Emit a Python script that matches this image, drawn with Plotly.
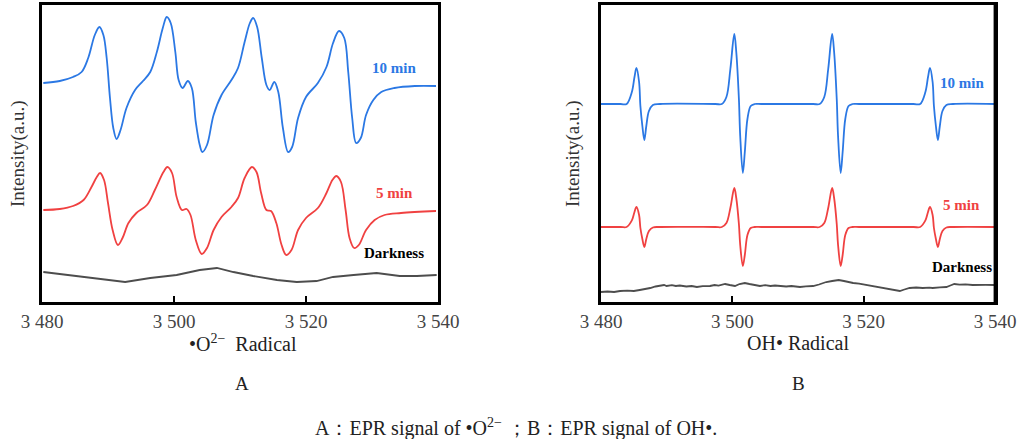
import plotly.graph_objects as go

# ---------------- data ----------------
# Panel A: •O2− radical (DMPO-OOH), field in G, intensity in a.u.
o2_field_10 = [3480.2, 3482.7, 3484.7, 3486.0, 3487.0, 3488.0, 3488.7, 3489.3, 3489.8, 3490.3,
               3490.8, 3491.3, 3491.9, 3492.8, 3494.1, 3495.3, 3496.4, 3497.4, 3498.3, 3498.9,
               3499.5, 3500.2, 3500.7, 3501.3, 3502.1, 3502.7, 3503.3, 3503.9, 3504.3, 3505.0,
               3506.0, 3507.2, 3508.7, 3509.7, 3510.7, 3511.5, 3512.0, 3512.6, 3513.3, 3514.0,
               3514.5, 3515.2, 3515.8, 3516.5, 3517.3, 3517.9, 3518.8, 3520.0, 3521.8, 3523.1,
               3524.1, 3525.0, 3525.8, 3526.4, 3527.0, 3527.6, 3528.3, 3529.1, 3530.2, 3531.4,
               3533.4, 3536.5, 3539.7]
o2_int_10 = [219, 221, 225, 230, 244, 267, 275, 267, 244, 204,
             174, 163, 172, 194, 212, 221, 230, 250, 274, 285,
             279, 250, 222, 214, 221, 214, 180, 157, 150, 157,
             187, 207, 222, 234, 260, 279, 284, 275, 244, 217,
             212, 220, 210, 174, 150, 155, 184, 205, 219, 235,
             259, 271, 264, 230, 184, 159, 164, 187, 202, 210,
             214, 216, 216]

o2_field_5 = [3480.2, 3482.7, 3484.7, 3486.3, 3487.5, 3488.3, 3488.8, 3489.4, 3490.0, 3490.7,
              3491.5, 3492.2, 3493.1, 3494.3, 3495.9, 3497.1, 3498.4, 3499.0, 3499.7, 3500.4,
              3501.2, 3501.9, 3502.5, 3503.3, 3504.2, 3505.0, 3506.0, 3507.2, 3508.7, 3509.7,
              3510.7, 3511.8, 3512.5, 3513.2, 3514.0, 3514.7, 3515.5, 3516.3, 3517.0, 3517.8,
              3518.8, 3520.0, 3521.8, 3523.1, 3524.0, 3524.6, 3525.3, 3526.0, 3526.6, 3527.3,
              3528.0, 3529.1, 3530.4, 3531.9, 3534.4, 3539.7]
o2_int_5 = [92, 93, 96, 102, 115, 125, 129, 122, 99, 72,
            57, 64, 79, 89, 97, 112, 130, 135, 129, 105,
            92, 93, 87, 62, 48, 54, 72, 85, 95, 104,
            124, 135, 130, 109, 92, 91, 79, 57, 47, 52,
            72, 84, 94, 109, 122, 126, 120, 92, 64, 54,
            57, 72, 82, 87, 89, 91]

o2_field_dark = [3480.2, 3483.7, 3488.8, 3492.6, 3496.4, 3500.4, 3503.9, 3506.5, 3509.0, 3512.0,
                 3515.6, 3518.6, 3521.6, 3524.1, 3527.2, 3530.7, 3534.2, 3536.8, 3539.8]
o2_int_dark = [30, 27, 23, 20, 24, 27, 32, 34, 30, 26,
               22, 20, 21, 25, 27, 29, 26, 26, 27]

# Panel B: OH• radical (DMPO-OH, 1:2:2:1)
oh_field_10 = [3480.0, 3483.0, 3483.9, 3484.7, 3485.1, 3485.4, 3485.8, 3486.0, 3486.3, 3486.6,
               3486.9, 3487.3, 3487.9, 3489.0,
               3497.4, 3498.4, 3499.1, 3499.7, 3500.3, 3500.6, 3501.0, 3501.2, 3501.6, 3501.9,
               3502.3, 3502.8, 3503.4, 3504.4,
               3512.3, 3513.3, 3514.0, 3514.6, 3515.2, 3515.5, 3515.9, 3516.1, 3516.5, 3516.8,
               3517.2, 3517.7, 3518.3, 3519.3,
               3527.6, 3528.6, 3529.4, 3529.8, 3530.1, 3530.5, 3530.7, 3531.0, 3531.3, 3531.6,
               3532.0, 3532.6, 3533.6, 3540.0]
oh_int_10 = [198, 198, 198, 210, 225, 234, 220, 196, 176, 162,
             176, 191, 197, 198,
             198, 198, 205, 233, 268, 250, 203, 166, 129, 150,
             183, 196, 198, 198,
             198, 198, 205, 233, 268, 250, 203, 166, 129, 150,
             183, 196, 198, 198,
             198, 198, 210, 225, 234, 220, 196, 176, 162, 176,
             191, 197, 198, 198]

oh_field_5 = oh_field_10
oh_int_5 = [75, 75, 75, 81.6, 90, 95, 87, 74, 63, 55,
            63, 71, 74.5, 75,
            75, 75, 79, 94, 114, 104, 78, 57, 36, 47,
            67, 74, 75, 75,
            75, 75, 79, 94, 114, 104, 78, 57, 36, 47,
            67, 74, 75, 75,
            75, 75, 81.6, 90, 95, 87, 74, 63, 55, 63,
            71, 74.5, 75, 75]

oh_field_dark = [3480.0, 3481.0, 3482.0, 3482.9, 3484.0, 3485.0, 3485.9, 3486.8, 3487.5, 3488.3,
                 3489.0, 3489.6, 3490.0, 3490.8, 3491.4, 3492.0, 3493.0, 3493.8, 3494.6, 3495.5,
                 3496.6, 3497.3, 3497.9, 3498.9, 3499.6, 3500.4, 3501.1, 3501.9, 3502.6, 3503.4,
                 3504.2, 3505.0, 3505.8, 3506.5, 3507.2, 3508.2, 3509.0, 3510.3, 3511.2, 3512.3,
                 3513.2, 3514.3, 3515.2, 3516.2, 3517.0, 3517.6, 3518.4, 3519.3, 3520.3, 3521.4,
                 3522.4, 3523.5, 3524.5, 3525.5, 3526.2, 3527.0, 3528.0, 3529.0, 3530.0, 3530.5,
                 3531.6, 3532.6, 3533.2, 3533.8, 3534.6, 3535.5, 3536.6, 3537.6, 3538.6, 3539.9]
oh_int_dark = [10, 10.5, 10, 11, 11.3, 11, 12, 13, 14, 15.5,
               16, 17, 16, 16.8, 16, 16.5, 15.5, 16, 15, 15.8,
               16, 17, 16.4, 18, 17, 16, 18, 19, 18, 17.3,
               16, 16.8, 16, 16.5, 16, 15.5, 16, 15, 15.6, 16,
               17.5, 20, 21, 22, 21, 20, 19, 18.3, 17, 16,
               14.5, 13, 12, 11, 12.5, 14, 14.5, 14, 14.3, 14,
               14.6, 15, 16.5, 18, 17.3, 17.6, 17, 17.4, 17.1, 17]

tick_vals = [3480, 3500, 3520, 3540]
tick_text = ["3 480", "3 500", "3 520", "3 540"]

BLUE = "#2b78e4"
RED = "#f04141"
GREY = "#4d4d4d"
SERIF = "Liberation Serif"

fig = go.Figure()

def add(x, y, color, xa, ya, shape="spline"):
    fig.add_trace(go.Scatter(x=x, y=y, mode="lines", xaxis=xa, yaxis=ya,
                             line=dict(color=color, width=1.8, shape=shape, smoothing=1.0),
                             showlegend=False, hoverinfo="skip"))

add(o2_field_10, o2_int_10, BLUE, "x", "y")
add(o2_field_5, o2_int_5, RED, "x", "y")
add(o2_field_dark, o2_int_dark, GREY, "x", "y", "linear")
add(oh_field_10, oh_int_10, BLUE, "x2", "y2")
add(oh_field_5, oh_int_5, RED, "x2", "y2")
add(oh_field_dark, oh_int_dark, GREY, "x2", "y2", "linear")

W, H = 1017, 439
ydom = [1 - 302 / H, 1 - 5 / H]
xcommon = dict(range=[3480, 3540], tickvals=tick_vals, ticktext=tick_text,
               ticks="inside", ticklen=6, tickwidth=2, tickcolor="black",
               showline=True, mirror=True, linewidth=2.5, linecolor="black",
               showgrid=False, zeroline=False, automargin=False,
               ticklabeloverflow="allow",
               tickfont=dict(family=SERIF, size=19, color="#444444"))
ycommon = dict(range=[0, 297], domain=ydom, showticklabels=False, ticks="",
               showline=True, mirror=True, linewidth=2.5, linecolor="black",
               showgrid=False, zeroline=False, automargin=False)

fig.update_layout(
    width=W, height=H, margin=dict(l=0, r=0, t=0, b=0, pad=0),
    paper_bgcolor="white", plot_bgcolor="white",
    xaxis=dict(domain=[42 / W, 438 / W], anchor="y", **xcommon),
    yaxis=dict(anchor="x", **ycommon),
    xaxis2=dict(domain=[601 / W, 995 / W], anchor="y2", **xcommon),
    yaxis2=dict(anchor="x2", **ycommon),
)

# filled strip for the right-hand border of panel B
fig.add_shape(type="rect", xref="paper", yref="paper",
              x0=993.6 / W, x1=996.4 / W, y0=ydom[0] - 1.2 / H, y1=ydom[1] + 1.2 / H,
              fillcolor="black", line=dict(width=0), layer="above")

ann = []
def lab(x, y, text, color, xref, yref):
    ann.append(dict(x=x, y=y, xref=xref, yref=yref, text="<b>%s</b>" % text, showarrow=False,
                    font=dict(family=SERIF, size=15, color=color), xanchor="center", yanchor="middle"))

lab(3533.4, 234, "10 min", BLUE, "x", "y")
lab(3533.4, 109, "5 min", RED, "x", "y")
lab(3533.4, 49, "Darkness", "black", "x", "y")
lab(3534.9, 219, "10 min", BLUE, "x2", "y2")
lab(3534.9, 97, "5 min", RED, "x2", "y2")
lab(3534.9, 35, "Darkness", "black", "x2", "y2")

def ptext(xp, yp, text, size=19, color="#222222", angle=0):
    ann.append(dict(x=xp / W, y=1 - yp / H, xref="paper", yref="paper", text=text,
                    showarrow=False, textangle=angle,
                    font=dict(family=SERIF, size=size, color=color),
                    xanchor="center", yanchor="middle"))

ptext(18, 154, "Intensity(a.u.)", 19, "#333333", -90)
ptext(573, 154, "Intensity(a.u.)", 19, "#333333", -90)
ptext(243, 343, "•O<sup>2−</sup>  Radical", 20)
ptext(798, 343, "OH• Radical", 20)
ptext(242, 383, "A", 19)
ptext(798, 383, "B", 19)
ptext(516, 427, "A：EPR signal of •O<sup>2−</sup> ；B：EPR signal of OH•.", 20)

fig.update_layout(annotations=ann)
fig.write_html("out.html", config={"displayModeBar": False},
               post_script="document.body.style.margin='0';document.body.style.overflow='hidden';")
